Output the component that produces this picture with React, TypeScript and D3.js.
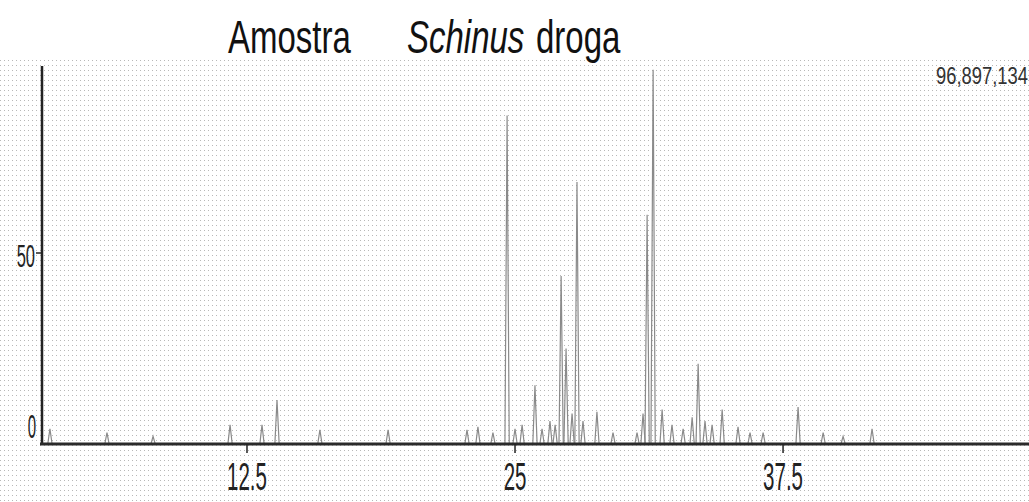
import * as React from "react";
import * as d3 from "d3";

// retention time (min) and relative abundance (%) of each peak
const peakTimes = [
  3.31, 5.97, 8.12, 11.71, 13.2, 13.9, 15.9, 19.08, 22.76, 23.27, 23.97, 24.63,
  25.0, 25.33, 25.93, 26.26, 26.63, 26.87, 27.15, 27.38, 27.66, 27.89, 28.17,
  28.82, 29.57, 30.69, 30.97, 31.16, 31.44, 31.86, 32.32, 32.84, 33.26, 33.54,
  33.86, 34.19, 34.66, 35.4, 35.96, 36.57, 38.2, 39.37, 40.3, 41.65,
];
const peakHeights = [
  4, 3, 2, 5, 5, 11.5, 3.7, 3.7, 3.7, 4.5, 3, 86, 4, 5, 15.4, 4, 6, 5, 44, 25,
  8, 68.6, 6, 8.4, 3, 3, 8, 60, 98, 9, 5, 4, 7, 21, 6, 5, 9, 4.5, 3, 3, 9.7, 3,
  2, 4,
];
const xTicks = [12.5, 25, 37.5];
const xTickLabels = ["12.5", "25", "37.5"];
const yTicks = [0, 50];
const yTickLabels = ["0", "50"];
const maxAbundance = "96,897,134";

function drawChart(svgRef: React.RefObject<SVGSVGElement | null>) {
  const width = 1029;
  const height = 502;
  const left = 42;
  const base = 444;

  const x = d3.scaleLinear().domain([2.94, 48.97]).range([left, width]);
  const y = d3.scaleLinear().domain([0, 100]).range([base, 62]);

  const svg = d3.select(svgRef.current).attr("width", width).attr("height", height);
  svg.selectAll("*").remove();

  // halftone dots of the scanned figure
  const defs = svg.append("defs");
  const pat = defs
    .append("pattern")
    .attr("id", "dots")
    .attr("width", 4)
    .attr("height", 5)
    .attr("patternUnits", "userSpaceOnUse");
  pat.append("rect").attr("width", 1).attr("height", 1).attr("fill", "#b8b8b8");
  svg.append("rect").attr("x", 0).attr("y", 58).attr("width", width).attr("height", height - 58).attr("fill", "url(#dots)");

  const font = "'Liberation Sans', Arial, sans-serif";

  // title, tall narrow lettering
  const title = svg.append("g").attr("font-family", font).attr("fill", "#111").attr("font-size", 33);
  title.append("text").attr("transform", "translate(228,53) scale(1,1.42)").text("Amostra");
  title.append("text").attr("transform", "translate(407,53) scale(1,1.42)").attr("font-style", "italic").text("Schinus");
  title.append("text").attr("transform", "translate(536,53) scale(1,1.42)").text("droga");

  svg.append("text").attr("transform", "translate(936,84) scale(1,1.35)").attr("font-family", font)
    .attr("font-size", 18.4).attr("fill", "#333").text(maxAbundance);

  // peaks
  const spike = d3.line<[number, number]>().x((d) => x(d[0])).y((d) => y(d[1]));
  const hw = 0.1;
  svg.append("g").selectAll("path")
    .data(peakTimes.map((t, i) => [t, peakHeights[i]]))
    .enter()
    .append("path")
    .attr("d", (d) => spike([[d[0] - hw, 0], [d[0], d[1]], [d[0] + hw, 0]]))
    .attr("fill", "none")
    .attr("stroke", "#8a8a8a")
    .attr("stroke-width", 1.2);

  // axes
  svg.append("line").attr("x1", left).attr("x2", left).attr("y1", 66).attr("y2", base + 1)
    .attr("stroke", "#222").attr("stroke-width", 2.5);
  svg.append("line").attr("x1", left - 2).attr("x2", width).attr("y1", base).attr("y2", base)
    .attr("stroke", "#2a2a2a").attr("stroke-width", 3);

  const xt = svg.append("g").selectAll("g").data(xTicks).enter().append("g")
    .attr("transform", (d) => `translate(${x(d)},0)`);
  xt.append("line").attr("y1", base).attr("y2", base + 9).attr("stroke", "#222").attr("stroke-width", 1.5);
  xt.append("text")
    .attr("transform", `translate(0,490) scale(1,1.85)`)
    .attr("text-anchor", "middle").attr("font-family", font).attr("font-size", 20.5).attr("fill", "#222")
    .text((d, i) => xTickLabels[i]);

  const yt = svg.append("g").selectAll("g").data(yTicks).enter().append("g");
  yt.filter((d) => d > 0).append("line")
    .attr("x1", left - 6).attr("x2", left).attr("y1", (d) => y(d)).attr("y2", (d) => y(d))
    .attr("stroke", "#222").attr("stroke-width", 1.5);
  yt.append("text")
    .attr("transform", (d) => `translate(${d > 0 ? left - 7 : left - 6},${d > 0 ? y(d) + 14 : y(d) - 6}) scale(1,${d > 0 ? 1.9 : 2.2})`)
    .attr("text-anchor", "end").attr("font-family", font).attr("font-size", (d) => (d > 0 ? 16.5 : 15))
    .attr("fill", "#222")
    .text((d, i) => yTickLabels[i]);
}

const App = () => {
  const svgRef = React.useRef<SVGSVGElement | null>(null);

  React.useEffect(() => {
    drawChart(svgRef);
  }, [svgRef]);

  return (
    <div style={{ position: "absolute", left: 0, top: 0 }}>
      <svg ref={svgRef} style={{ display: "block" }} />
    </div>
  );
};

export default App;
